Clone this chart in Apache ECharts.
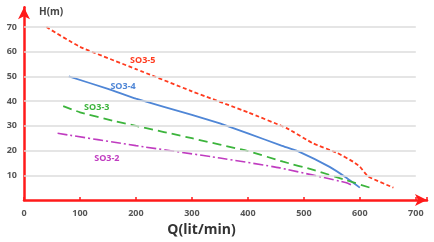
<!DOCTYPE html>
<html>
<head>
<meta charset="utf-8">
<script src="https://cdn.jsdelivr.net/npm/echarts@6/dist/echarts.min.js"></script>
</head>
<body style="margin:0;background:#fff">
<div id="main" style="width:434px;height:242px"></div>
<script type="text/javascript">
	var chart = echarts.init(document.getElementById('main'));

	// 曲线数据 [Q, H]
	var so35 = [[40, 70], [100, 62], [200, 53], [300, 44], [400, 35.5], [470, 29], [516, 23], [560, 19], [588, 15.5], [600, 13.5], [615, 9.5], [660, 5]];
	var so34 = [[80, 50], [150, 45], [200, 41], [300, 34.5], [350, 31], [400, 27], [460, 22], [493, 19.4], [546, 13.4], [576, 9], [600, 5]];
	var so33 = [[70, 38], [100, 35.5], [160, 32], [200, 30], [300, 25], [400, 19.8], [463, 15.5], [520, 12], [576, 8], [618, 5]];
	var so32 = [[60, 27], [200, 22], [350, 17], [457, 13], [576, 7], [586, 6]];

	var yGrid = [10, 20, 30, 40, 50, 60, 70];
	var xMaxTick = 700;

	// 曲线名称标注的位置
	var labels = [
		{name: 'SO3-5', coord: [212, 56.3], color: '#ff3b1f'},
		{name: 'SO3-4', coord: [177, 46], color: '#4f86d6'},
		{name: 'SO3-3', coord: [130, 37.6], color: '#3cb43c'},
		{name: 'SO3-2', coord: [148, 17], color: '#c03cc0'}
	];

	function tagPoint(i) {
		return {
			symbol: 'circle',
			symbolSize: 1,
			silent: true,
			itemStyle: {color: 'rgba(0,0,0,0)'},
			label: {
				show: true,
				position: 'inside',
				formatter: labels[i].name,
				color: labels[i].color,
				fontSize: 9,
				fontWeight: 'bold',
				fontFamily: 'Open Sans'
			},
			data: [{coord: labels[i].coord}]
		};
	}

	var option = {
		animation: false,
		grid: {left: 24, right: 7, top: 7.3, bottom: 42},
		graphic: [{
			type: 'text', left: 39, top: 7,
			style: {text: 'H(m)', font: 'bold 10px "Open Sans"', fill: '#444'}
		}],
		xAxis: {
			type: 'value', min: 0, max: 720, interval: 100,
			name: 'Q(lit/min)', nameLocation: 'middle', nameGap: 23,
			nameTextStyle: {fontSize: 14, fontWeight: 'bold', color: '#333', fontFamily: 'Open Sans', padding: [0, 48, 0, 0]},
			axisLine: {lineStyle: {color: '#ff1a1a', width: 2.5}, symbol: ['none', 'arrow'], symbolSize: [9, 12]},
			axisTick: {inside: true, length: 3, lineStyle: {color: '#ff1a1a', width: 1.5}},
			axisLabel: {
				color: '#555', fontSize: 9, fontWeight: 'bold', fontFamily: 'Open Sans', margin: 9,
				formatter: function (v) { return v > xMaxTick ? '' : v; }
			},
			splitLine: {show: false}
		},
		yAxis: {
			type: 'value', min: 0, max: 78, interval: 10,
			axisLine: {show: true, lineStyle: {color: '#ff1a1a', width: 2.5}, symbol: ['none', 'arrow'], symbolSize: [9, 12]},
			axisTick: {show: false},
			axisLabel: {
				color: '#555', fontSize: 9, fontWeight: 'bold', fontFamily: 'Open Sans', margin: 7,
				formatter: function (v) { return (v === 0 || v > 70) ? '' : v; }
			},
			splitLine: {show: false}
		},
		series: [
			{
				name: 'grid', type: 'line', data: [], silent: true,
				markLine: {
					symbol: 'none', silent: true, label: {show: false},
					lineStyle: {color: '#dcdcdc', width: 1.5, type: 'solid'},
					data: yGrid.map(function (v) { return [{coord: [0, v]}, {coord: [xMaxTick, v]}]; })
				}
			},
			{
				name: 'SO3-5', type: 'line', data: so35, smooth: 0.15, symbol: 'none',
				lineStyle: {color: '#ff3b1f', width: 1.8, type: [4, 2.5]},
				markPoint: tagPoint(0)
			},
			{
				name: 'SO3-4', type: 'line', data: so34, smooth: 0.15, symbol: 'none',
				lineStyle: {color: '#4f86d6', width: 1.8},
				markPoint: tagPoint(1)
			},
			{
				name: 'SO3-3', type: 'line', data: so33, smooth: 0.15, symbol: 'none',
				lineStyle: {color: '#3cb43c', width: 1.8, type: [9, 5]},
				markPoint: tagPoint(2)
			},
			{
				name: 'SO3-2', type: 'line', data: so32, smooth: 0.15, symbol: 'none',
				lineStyle: {color: '#c03cc0', width: 1.6, type: [10, 3, 2, 3]},
				markPoint: tagPoint(3)
			}
		]
	};
	chart.setOption(option);
</script>
</body>
</html>
